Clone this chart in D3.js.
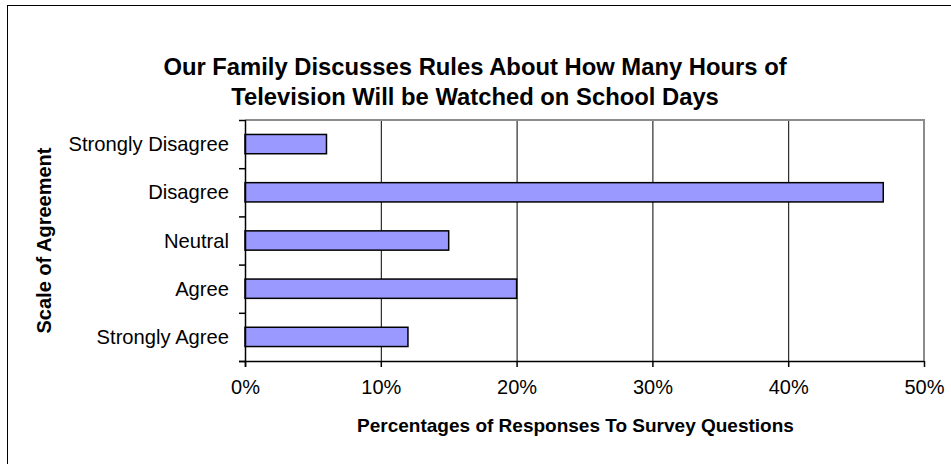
<!DOCTYPE html>
<html>
<head>
<meta charset="utf-8">
<script src="https://cdn.jsdelivr.net/npm/d3@7"></script>
<style>
  html, body { margin: 0; padding: 0; background: #fff; }
  svg { display: block; font-family: "Liberation Sans", Arial, sans-serif; }
</style>
</head>
<body>
<svg id="chart" width="951" height="464"></svg>
<script>
// Survey answers, top to bottom
const categories = ["Strongly Disagree", "Disagree", "Neutral", "Agree", "Strongly Agree"];
// Share of responses (%)
const values = [6, 47, 15, 20, 12];
// Horizontal axis ticks (%)
const xTicks = [0, 10, 20, 30, 40, 50];

const titleLines = [
  "Our Family Discusses Rules About How Many Hours of",
  "Television Will be Watched on School Days"
];
const xTitle = "Percentages of Responses To Survey Questions";
const yTitle = "Scale of Agreement";

const plot = { left: 245, right: 924, top: 120, bottom: 361 };

const svg = d3.select("#chart");

// Outer chart frame
svg.append("rect")
  .attr("x", 7.5).attr("y", 5.5)
  .attr("width", 960).attr("height", 480)
  .attr("fill", "#fff").attr("stroke", "#000").attr("stroke-width", 1);

const x = d3.scaleLinear().domain([0, 50]).range([plot.left, plot.right]);
const y = d3.scaleBand().domain(categories)
  .range([plot.top, plot.bottom])
  .paddingInner(0.6).paddingOuter(0.3);
// Category boundaries for the tick marks on the value axis
const yEdge = d3.scaleLinear().domain([0, categories.length]).range([plot.top, plot.bottom]);

// Vertical gridlines
svg.append("g")
  .attr("transform", `translate(0,${plot.bottom})`)
  .call(d3.axisBottom(x).tickValues(xTicks.slice(1, -1)).tickSize(-(plot.bottom - plot.top)).tickFormat(""))
  .call(g => g.select(".domain").remove())
  .call(g => g.selectAll("line").attr("stroke", "#000").attr("stroke-width", 1));

// Plot border (top and right)
svg.append("path")
  .attr("d", `M${plot.left},${plot.top}H${plot.right}V${plot.bottom}`)
  .attr("fill", "none").attr("stroke", "#8c8c8c").attr("stroke-width", 2);

// Bars
svg.append("g").selectAll("rect")
  .data(categories)
  .join("rect")
  .attr("x", x(0))
  .attr("y", d => y(d))
  .attr("width", (d, i) => x(values[i]) - x(0))
  .attr("height", y.bandwidth())
  .attr("fill", "#9999ff")
  .attr("stroke", "#000")
  .attr("stroke-width", 1.5);

// X axis
const xAxis = svg.append("g")
  .attr("transform", `translate(0,${plot.bottom})`)
  .call(d3.axisBottom(x).tickValues(xTicks).tickSize(6).tickPadding(13).tickFormat(d => d + "%"));
xAxis.select(".domain").attr("d", `M${plot.left - 6},0.5H${plot.right}`).attr("stroke", "#000").attr("stroke-width", 1.5);
xAxis.selectAll(".tick line").attr("stroke", "#000").attr("stroke-width", 1.5);
xAxis.selectAll(".tick text")
  .attr("font-size", 20).attr("fill", "#000")
  .attr("font-family", "Liberation Sans, Arial, sans-serif");

// Y axis: tick marks at category edges, labels at band centres
const yAxis = svg.append("g").attr("transform", `translate(${plot.left},0)`);
yAxis.call(d3.axisLeft(yEdge).tickValues(d3.range(categories.length + 1)).tickSize(6).tickFormat(""))
  .call(g => g.select(".domain").attr("d", `M0.5,${plot.top}V${plot.bottom + 6}`).attr("stroke", "#000").attr("stroke-width", 1.5))
  .call(g => g.selectAll(".tick line").attr("stroke", "#000").attr("stroke-width", 1.5));

svg.append("g").selectAll("text")
  .data(categories)
  .join("text")
  .attr("x", plot.left - 16)
  .attr("y", d => y(d) + y.bandwidth() / 2)
  .attr("dy", "0.35em")
  .attr("text-anchor", "end")
  .attr("font-size", 20.2)
  .attr("fill", "#000")
  .text(d => d);

// Chart title
svg.append("g").selectAll("text")
  .data(titleLines)
  .join("text")
  .attr("x", 475)
  .attr("y", (d, i) => 75 + i * 30)
  .attr("text-anchor", "middle")
  .attr("font-size", 23.8)
  .attr("font-weight", "bold")
  .attr("fill", "#000")
  .text(d => d);

// Axis titles
svg.append("text")
  .attr("x", (plot.left + plot.right) / 2 - 9)
  .attr("y", 432)
  .attr("text-anchor", "middle")
  .attr("font-size", 19)
  .attr("font-weight", "bold")
  .attr("fill", "#000")
  .text(xTitle);

svg.append("text")
  .attr("transform", `translate(51,${(plot.top + plot.bottom) / 2}) rotate(-90)`)
  .attr("text-anchor", "middle")
  .attr("font-size", 20)
  .attr("font-weight", "bold")
  .attr("fill", "#000")
  .text(yTitle);
</script>
</body>
</html>
